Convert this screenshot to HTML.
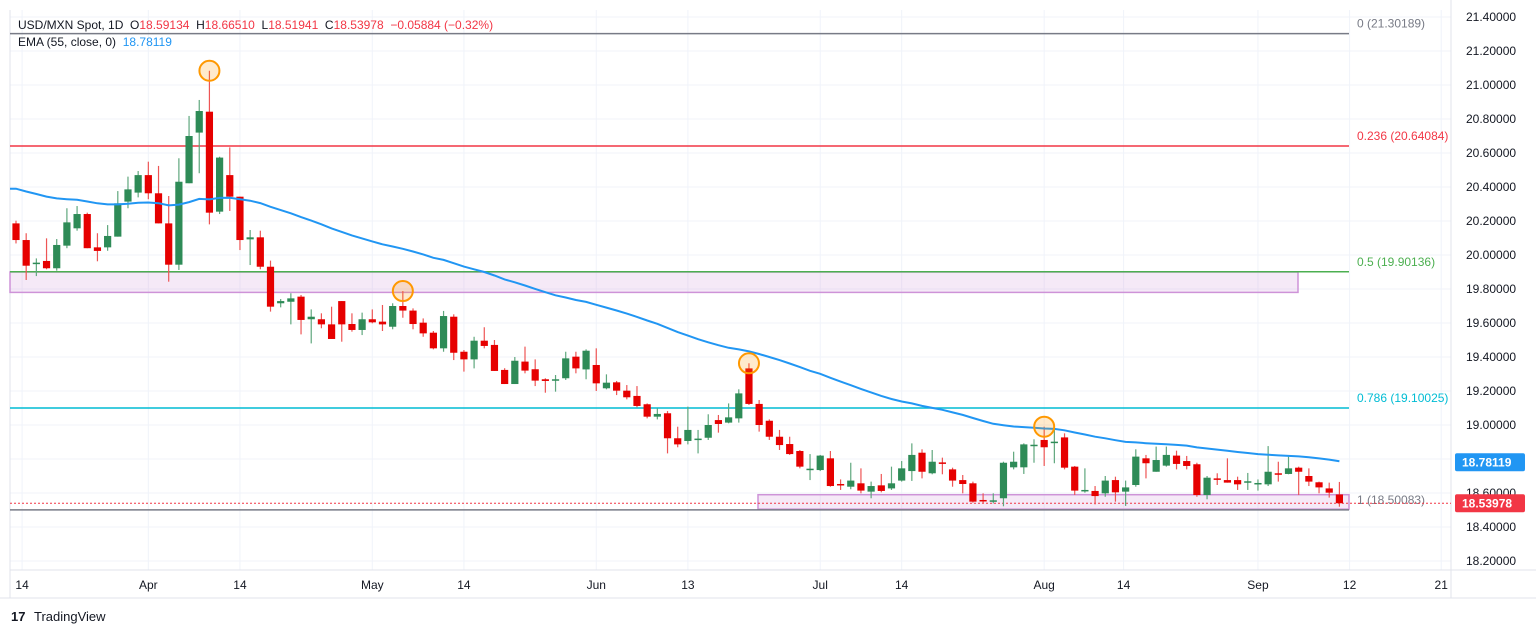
<!DOCTYPE html>
<html><head><meta charset="utf-8">
<style>
body{margin:0;background:#fff;font-family:"Liberation Sans",sans-serif;}
svg{display:block}
</style></head>
<body>
<svg id="chart" width="1536" height="634" xmlns="http://www.w3.org/2000/svg" font-family="Liberation Sans, sans-serif"></svg>
<script>
const opens=[20.186,20.088,19.95,19.965,19.922,20.055,20.157,20.241,20.045,20.045,20.108,20.314,20.367,20.47,20.363,20.186,19.943,20.422,20.72,20.843,20.255,20.47,20.343,20.092,20.104,19.931,19.716,19.725,19.755,19.622,19.622,19.592,19.729,19.594,19.559,19.622,19.608,19.578,19.7,19.673,19.602,19.543,19.451,19.637,19.431,19.386,19.496,19.471,19.324,19.241,19.373,19.328,19.269,19.261,19.275,19.402,19.327,19.353,19.216,19.251,19.202,19.171,19.122,19.049,19.069,18.922,18.906,18.916,18.925,19.029,19.014,19.039,19.333,19.124,19.025,18.931,18.888,18.847,18.739,18.735,18.804,18.653,18.637,18.657,18.608,18.645,18.627,18.673,18.729,18.837,18.716,18.78,18.739,18.676,18.657,18.559,18.553,18.569,18.751,18.751,18.876,18.912,18.896,18.927,18.755,18.612,18.612,18.598,18.676,18.608,18.647,18.804,18.725,18.761,18.82,18.788,18.769,18.588,18.686,18.676,18.676,18.663,18.657,18.651,18.716,18.712,18.749,18.7,18.663,18.627,18.59134];
const highs=[20.202,20.128,19.98,20.098,20.094,20.275,20.288,20.249,20.128,20.176,20.376,20.461,20.494,20.549,20.524,20.347,20.569,20.818,20.912,21.084,20.578,20.633,20.343,20.147,20.143,19.967,19.741,19.775,19.765,19.68,19.657,19.696,19.729,19.657,19.661,19.68,19.706,19.716,19.788,19.686,19.627,19.553,19.671,19.651,19.441,19.519,19.575,19.5,19.334,19.4,19.461,19.386,19.275,19.294,19.431,19.431,19.445,19.451,19.298,19.259,19.235,19.229,19.127,19.098,19.082,18.99,19.108,18.971,19.063,19.059,19.127,19.21,19.363,19.147,19.033,18.971,18.931,18.853,18.829,18.824,18.847,18.68,18.778,18.745,18.667,18.712,18.755,18.788,18.892,18.857,18.853,18.808,18.749,18.706,18.667,18.598,18.598,18.784,18.843,18.892,18.916,18.99,18.971,18.951,18.759,18.745,18.641,18.7,18.696,18.673,18.857,18.824,18.873,18.873,18.849,18.818,18.778,18.7,18.716,18.804,18.696,18.718,18.68,18.876,18.784,18.814,18.755,18.745,18.667,18.661,18.6651];
const lows=[20.068,19.853,19.876,19.916,19.908,20.04,20.143,20.04,19.963,20.025,20.108,20.275,20.339,20.328,20.186,19.843,19.912,20.422,20.481,20.18,20.241,20.259,20.029,19.941,19.916,19.667,19.692,19.592,19.533,19.48,19.569,19.506,19.49,19.549,19.529,19.598,19.553,19.563,19.631,19.563,19.519,19.445,19.431,19.382,19.314,19.333,19.451,19.318,19.241,19.241,19.304,19.229,19.19,19.196,19.265,19.304,19.269,19.2,19.21,19.176,19.151,19.104,19.039,19.033,18.833,18.869,18.886,18.833,18.912,18.955,19.01,19.014,19.118,18.961,18.912,18.853,18.824,18.745,18.676,18.729,18.637,18.618,18.622,18.598,18.569,18.604,18.618,18.667,18.671,18.686,18.71,18.71,18.637,18.598,18.543,18.539,18.539,18.522,18.739,18.712,18.778,18.759,18.775,18.739,18.588,18.602,18.533,18.578,18.549,18.524,18.637,18.686,18.725,18.755,18.739,18.739,18.578,18.563,18.647,18.661,18.618,18.618,18.614,18.641,18.667,18.71,18.588,18.641,18.598,18.573,18.51941];
const closes=[20.088,19.937,19.955,19.922,20.059,20.192,20.241,20.04,20.024,20.112,20.304,20.386,20.47,20.363,20.186,19.943,20.431,20.7,20.847,20.249,20.573,20.343,20.088,20.104,19.931,19.696,19.729,19.745,19.618,19.637,19.592,19.506,19.592,19.559,19.622,19.604,19.592,19.7,19.673,19.594,19.539,19.451,19.641,19.425,19.386,19.496,19.465,19.318,19.241,19.378,19.32,19.261,19.259,19.269,19.392,19.333,19.437,19.245,19.249,19.202,19.163,19.112,19.049,19.065,18.922,18.886,18.971,18.92,19.0,19.006,19.045,19.186,19.124,19.0,18.931,18.882,18.829,18.755,18.743,18.82,18.641,18.647,18.673,18.614,18.641,18.612,18.657,18.745,18.824,18.725,18.784,18.775,18.673,18.653,18.549,18.555,18.557,18.778,18.784,18.886,18.884,18.869,18.902,18.749,18.614,18.618,18.582,18.673,18.604,18.633,18.814,18.775,18.794,18.824,18.771,18.759,18.588,18.69,18.68,18.661,18.651,18.669,18.659,18.725,18.71,18.745,18.725,18.667,18.633,18.602,18.53978];
const emaSeed=20.39;
const emaLastPrinted=18.78119;
const priceTicks=[21.4,21.2,21.0,20.8,20.6,20.4,20.2,20.0,19.8,19.6,19.4,19.2,19.0,18.8,18.6,18.4,18.2];
const dateLabels=["14","Apr","14","May","14","Jun","13","Jul","14","Aug","14","Sep","12","21"];
const dateBarIdx=[0.6,13,22,35,44,57,66,79,87,101,108.8,122,131,140];
const fibLevels=[21.30189,20.64084,19.90136,19.10025,18.50083];
const fibNames=["0","0.236","0.5","0.786","1"];
const fibColors=["#787b86","#f23645","#4caf50","#00bcd4","#787b86"];
const pivotIdx=[19,38,72,101];
const pivotPrice=[21.084,19.788,19.363,18.99];

const svg=document.getElementById('chart');
const NS="http://www.w3.org/2000/svg";
const yOf=p=>17+(21.4-p)*170;
const xOf=i=>16+i*10.18;
function mk(tag,attrs,parent){const e=document.createElementNS(NS,tag);for(const k in attrs)e.setAttribute(k,attrs[k]);(parent||svg).appendChild(e);return e;}
function txt(s,attrs){const e=mk('text',attrs);e.textContent=s;return e;}

const grid=mk('g',{});


priceTicks.forEach(p=>{mk('line',{x1:10,x2:1451,y1:yOf(p),y2:yOf(p),stroke:'#f0f3fa','stroke-width':1},grid);});
dateBarIdx.forEach(i=>{mk('line',{x1:xOf(i),x2:xOf(i),y1:10,y2:570,stroke:'#f0f3fa','stroke-width':1},grid);});
mk('line',{x1:10,x2:10,y1:10,y2:598,stroke:'#e0e3eb'});
mk('line',{x1:1451,x2:1451,y1:0,y2:598,stroke:'#e0e3eb'});
mk('line',{x1:10,x2:1536,y1:570,y2:570,stroke:'#e0e3eb'});
mk('line',{x1:0,x2:1536,y1:598,y2:598,stroke:'#e0e3eb'});

const r1=mk('rect',{x:10,y:yOf(19.90),width:1288,height:yOf(19.78)-yOf(19.90),fill:'rgba(206,147,216,0.2)',stroke:'#ce93d8','stroke-width':1.5});


const r2=mk('rect',{x:758,y:yOf(18.59),width:591,height:yOf(18.505)-yOf(18.59),fill:'rgba(206,147,216,0.2)',stroke:'#ce93d8','stroke-width':1.5});



fibLevels.forEach((lv,k)=>{
  const l=mk('line',{x1:10,x2:1349,y1:yOf(lv),y2:yOf(lv),stroke:fibColors[k],'stroke-width':1.5});
  
  
  const t=txt(fibNames[k]+' ('+lv.toFixed(5)+')',{x:1357,y:yOf(lv)-6,'font-size':12,fill:fibColors[k]});
  
  
});

const cp=mk('line',{x1:10,x2:1451,y1:yOf(closes[closes.length-1]),y2:yOf(closes[closes.length-1]),stroke:'#f23645','stroke-width':1,'stroke-dasharray':'2,2'});



const cg=mk('g',{});


closes.forEach((c,i)=>{
  const o=opens[i],up=c>=o,col=up?'#2e8b57':'#e60000';
  const x=xOf(i);
  const g=mk('g',{},cg);
  
  
  mk('line',{x1:x,x2:x,y1:yOf(highs[i]),y2:yOf(lows[i]),stroke:up?'#5fa77d':'#ee5555','stroke-width':1.2},g);
  const top=yOf(Math.max(o,c)),bot=yOf(Math.min(o,c));
  mk('rect',{x:x-3.6,y:top,width:7.2,height:Math.max(1.5,bot-top),fill:col},g);
});

let e=emaSeed;const a=2/56;const pts=[];
closes.forEach((c,i)=>{e=i===0?emaSeed:e+a*(c-e);pts.push(xOf(i).toFixed(1)+','+yOf(e).toFixed(1));});
const em=mk('polyline',{points:'10,'+yOf(emaSeed).toFixed(1)+' '+pts.join(' '),fill:'none',stroke:'#2196f3','stroke-width':2});



pivotIdx.forEach((i,k)=>{
  const c=mk('circle',{cx:xOf(i),cy:yOf(pivotPrice[k]),r:10,fill:'rgba(255,152,0,0.2)',stroke:'#ff9800','stroke-width':2});
  
  
});

priceTicks.forEach(p=>{
  const t=txt(p.toFixed(5),{x:1466,y:yOf(p)+4,'font-size':12,fill:'#131722'});
  
  
});
function tag(val,color,name){
  const y=yOf(val);
  const g=mk('g',{});
  
  
  mk('rect',{x:1455,y:y-9,width:70,height:18,rx:2,fill:color},g);
  const t=mk('text',{x:1462,y:y+4.5,'font-size':12,'font-weight':'bold',fill:'#fff'},g);t.textContent=val.toFixed(5);
}
tag(emaLastPrinted,'#2196f3','ema-price-tag');
tag(closes[closes.length-1],'#f23645','last-price-tag');

dateLabels.forEach((s,k)=>{
  const t=txt(s,{x:xOf(dateBarIdx[k]),y:589,'font-size':12,fill:'#131722','text-anchor':'middle'});
  
  
});

const h=txt('',{x:18,y:29,'font-size':12,fill:'#131722'});


h.style.whiteSpace='pre';
h.innerHTML='USD/MXN Spot, 1D  O<tspan fill="#f23645">18.59134</tspan>  H<tspan fill="#f23645">18.66510</tspan>  L<tspan fill="#f23645">18.51941</tspan>  C<tspan fill="#f23645">18.53978</tspan>  <tspan fill="#f23645">−0.05884 (−0.32%)</tspan>';
const h2=txt('',{x:18,y:46,'font-size':12,fill:'#131722'});


h2.style.whiteSpace='pre';
h2.innerHTML='EMA (55, close, 0)  <tspan fill="#2196f3">'+emaLastPrinted.toFixed(5)+'</tspan>';

const lg=txt('TradingView',{x:34,y:621,'font-size':13,fill:'#131722'});


const lm=txt('17',{x:11,y:621,'font-size':13,'font-weight':'bold',fill:'#131722'});


</script>
</body></html>
